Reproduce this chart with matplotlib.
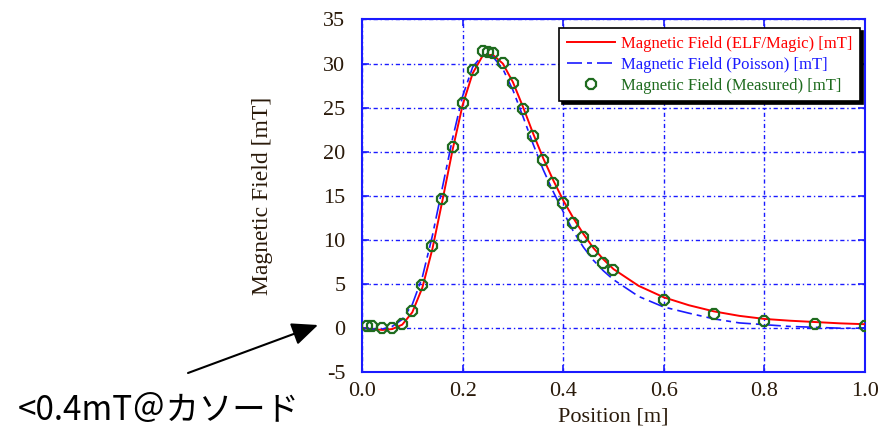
import matplotlib
matplotlib.use("Agg")
import matplotlib.pyplot as plt

# ELF/Magic calculation
pos_elf = [0.00, 0.02, 0.04, 0.06, 0.08, 0.10, 0.12, 0.14, 0.16, 0.18, 0.20, 0.22,
           0.24, 0.26, 0.28, 0.30, 0.32, 0.34, 0.36, 0.38, 0.40, 0.42, 0.44, 0.46,
           0.48, 0.50, 0.55, 0.60, 0.65, 0.70, 0.75, 0.80, 0.85, 0.90, 0.95, 1.00]
b_elf = [0.0, -0.1, -0.2, -0.1, 0.4, 1.8, 4.6, 9.0, 14.5, 20.2, 25.3, 28.9,
         30.9, 31.0, 30.0, 27.9, 25.1, 22.1, 19.3, 16.8, 14.5, 12.5, 10.7, 9.1,
         7.8, 6.7, 4.8, 3.5, 2.6, 1.9, 1.4, 1.05, 0.85, 0.7, 0.55, 0.45]

# Poisson calculation
pos_poi = pos_elf
b_poi = [0.0, -0.1, -0.1, 0.2, 1.0, 2.7, 5.8, 10.5, 16.0, 21.5, 26.3, 29.6,
         31.0, 30.8, 29.4, 27.0, 24.0, 20.9, 18.0, 15.5, 13.2, 11.0, 9.2, 7.7,
         6.5, 5.5, 3.6, 2.4, 1.7, 1.05, 0.6, 0.4, 0.2, 0.1, 0.0, 0.0]

# measured with hall probe
pos_meas = [0.01, 0.02, 0.04, 0.06, 0.08, 0.10, 0.12, 0.14, 0.16, 0.18, 0.20, 0.22,
            0.24, 0.25, 0.26, 0.28, 0.30, 0.32, 0.34, 0.36, 0.38, 0.40, 0.42, 0.44,
            0.46, 0.48, 0.50, 0.60, 0.70, 0.80, 0.90, 1.00]
b_meas = [0.3, 0.2, 0.05, 0.05, 0.5, 1.95, 4.9, 9.35, 14.7, 20.5, 25.5, 29.3,
          31.4, 31.3, 31.2, 30.1, 27.8, 24.9, 21.8, 19.1, 16.5, 14.2, 11.9, 10.3,
          8.75, 7.35, 6.6, 3.2, 1.6, 0.8, 0.45, 0.2]

xticks = [0.0, 0.2, 0.4, 0.6, 0.8, 1.0]
yticks = [-5, 0, 5, 10, 15, 20, 25, 30, 35]

blue = "#1a1aff"
green = "#1e6b1e"
ink = "#2a1a0a"
serif = "Liberation Serif"

fig = plt.figure(figsize=(8.91, 4.34), dpi=100)
ax = fig.add_axes([0.4063, 0.1422, 0.5645, 0.8129])

ax.plot(pos_elf, b_elf, color="red", lw=1.4, label="Magnetic Field (ELF/Magic) [mT]", zorder=3)
ax.plot(pos_poi, b_poi, color=blue, lw=1.2, dashes=(9, 3, 3, 3),
        label="Magnetic Field (Poisson) [mT]", zorder=3)
ax.plot(pos_meas, b_meas, ls="none", marker="8", ms=8, mfc="none", mec=green, mew=1.6,
        label="Magnetic Field (Measured) [mT]", zorder=4)

ax.set_xlim(0, 1.0)
ax.set_ylim(-5, 35)
ax.set_xticks(xticks)
ax.set_yticks(yticks)
ax.set_xticklabels([f"{v:.1f}" for v in xticks], fontfamily=serif, fontsize=16)
ax.set_yticklabels([str(v) for v in yticks], fontfamily=serif, fontsize=16)
ax.tick_params(direction="in", colors=blue, length=5, width=1.2,
               top=True, right=True, labelcolor=ink)
ax.tick_params(axis="y", pad=12)
ax.tick_params(axis="x", pad=7)
for s in ax.spines.values():
    s.set_color(blue)
    s.set_linewidth(1.5)
ax.grid(True, color=blue, lw=1.0, ls=(0, (3, 2, 1, 2)))

ax.set_xlabel("Position [m]", fontfamily=serif, fontsize=16, color=ink, labelpad=5)
ax.set_ylabel("Magnetic Field [mT]", fontfamily=serif, fontsize=17, color=ink, labelpad=36)

leg = ax.legend(loc="upper right", bbox_to_anchor=(0.99, 0.975), prop={"family": serif, "size": 12},
                frameon=True, fancybox=False, shadow={"color": "black", "alpha": 1.0},
                edgecolor="black", framealpha=1, borderpad=0.45, labelspacing=0.3,
                handlelength=2.9, handletextpad=0.35, borderaxespad=0)
leg.get_frame().set_linewidth(1.2)
for txt, c in zip(leg.get_texts(), ["red", blue, green]):
    txt.set_color(c)

# arrow pointing at the cathode end
fig.text(18 / 891, 1 - 420 / 434, "<0.4mT＠カソード", fontsize=24,
         family=["Noto Sans CJK JP", "DejaVu Sans"], color="black")
ax.annotate("", xy=(318 / 891, 1 - 325 / 434), xycoords="figure fraction",
            xytext=(188 / 891, 1 - 373 / 434), textcoords="figure fraction",
            arrowprops=dict(arrowstyle="-|>,head_length=1.6,head_width=0.7", color="black",
                            lw=1.5, shrinkA=0, shrinkB=0),
            annotation_clip=False)

fig.savefig("out.png", dpi=100)
